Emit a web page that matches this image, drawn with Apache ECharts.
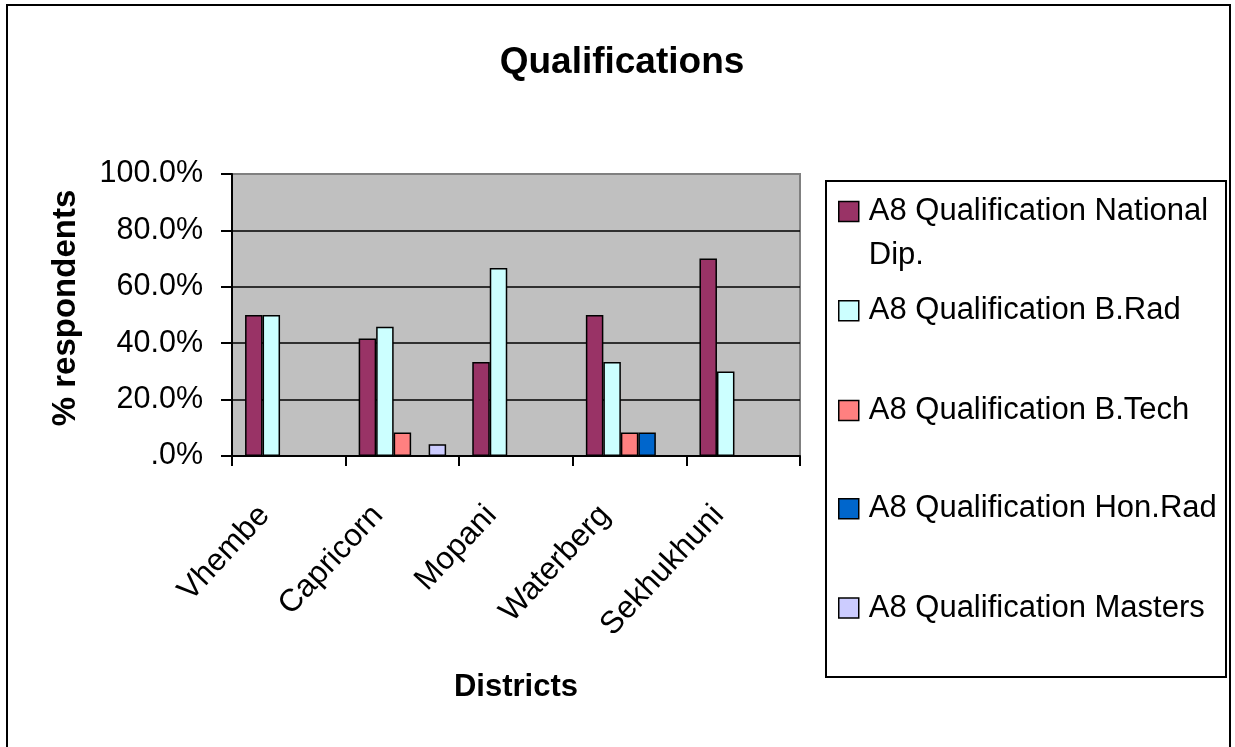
<!DOCTYPE html>
<html>
<head>
<meta charset="utf-8">
<title>Qualifications</title>
<script src="https://cdn.jsdelivr.net/npm/echarts@6/dist/echarts.min.js"></script>
<style>
  html, body { margin: 0; padding: 0; background: #ffffff; }
  #chart { width: 1235px; height: 747px; }
</style>
</head>
<body>
<div id="chart"></div>
<script>
// Districts on the x axis
var districts = ['Vhembe', 'Capricorn', 'Mopani', 'Waterberg', 'Sekhukhuni'];

// Share of respondents (%) per qualification; null = no respondents
var nationalDip = [50.0, 41.7, 33.3, 50.0, 70.0];
var bRad        = [50.0, 45.8, 66.7, 33.3, 30.0];
var bTech       = [null, 8.3, null, 8.3, null];
var honRad      = [null, null, null, 8.3, null];
var masters     = [null, 4.2, null, null, null];

// Value axis ticks (%)
var yTicks = [0, 20, 40, 60, 80, 100];

var seriesNames = [
  'A8 Qualification National Dip.',
  'A8 Qualification B.Rad',
  'A8 Qualification B.Tech',
  'A8 Qualification Hon.Rad',
  'A8 Qualification Masters'
];
var seriesData = [nationalDip, bRad, bTech, honRad, masters];
var seriesColors = ['#993366', '#CCFFFF', '#FF8080', '#0066CC', '#CCCCFF'];

var FONT = 'Liberation Sans, Arial, sans-serif';

var chart = echarts.init(document.getElementById('chart'), null, { renderer: 'canvas' });

var series = seriesNames.map(function (name, i) {
  return {
    name: name,
    type: 'bar',
    data: seriesData[i],
    barGap: '0%',
    barCategoryGap: '23%',
    itemStyle: { color: seriesColors[i], borderColor: '#000000', borderWidth: 1.5 },
    emphasis: { disabled: true },
    animation: false
  };
});

// One legend block per series so each row can sit at its own height;
// the first label wraps onto a second line.
var legendRowCenters = [211.5, 310.7, 410.5, 508.7, 608];
var LINE_H = 44;
var legends = seriesNames.map(function (name, i) {
  var first = i === 0;
  return {
    data: [name],
    orient: 'vertical',
    left: 838,
    top: first ? legendRowCenters[i] - LINE_H * 1.5 : legendRowCenters[i] - LINE_H / 2,
    padding: 0,
    itemWidth: 20,
    itemHeight: 20,
    icon: 'rect',
    selectedMode: false,
    itemStyle: { borderColor: '#000000', borderWidth: 1.5 },
    formatter: first ? function () { return '\nA8 Qualification National\nDip.'; } : '{name}',
    textStyle: {
      fontFamily: FONT,
      fontSize: 31,
      color: '#000000',
      lineHeight: LINE_H,
      padding: [0, 0, 0, 5]
    }
  };
});

chart.setOption({
  backgroundColor: '#ffffff',
  animation: false,
  title: {
    text: 'Qualifications',
    left: 622,
    top: 44,
    textAlign: 'center',
    padding: 0,
    textStyle: { fontFamily: FONT, fontSize: 37, fontWeight: 'bold', color: '#000000' }
  },
  legend: legends,
  grid: {
    left: 232,
    right: 435,
    top: 174,
    bottom: 291,
    show: true,
    backgroundColor: '#C0C0C0',
    borderColor: '#808080',
    borderWidth: 2
  },
  xAxis: {
    type: 'category',
    data: districts,
    name: 'Districts',
    nameLocation: 'middle',
    nameGap: 231,
    nameTextStyle: { fontFamily: FONT, fontSize: 31, fontWeight: 'bold', color: '#000000', verticalAlign: 'middle' },
    axisLine: { lineStyle: { color: '#000000', width: 2 } },
    axisTick: { show: true, alignWithLabel: false, length: 10, lineStyle: { color: '#000000', width: 2 } },
    axisLabel: {
      interval: 0,
      rotate: 47,
      margin: 28,
      fontFamily: FONT,
      fontSize: 31.5,
      color: '#000000',
      padding: [0, 36, 0, 0]
    },
    splitLine: { show: false }
  },
  yAxis: {
    type: 'value',
    min: yTicks[0],
    max: yTicks[yTicks.length - 1],
    interval: yTicks[1] - yTicks[0],
    name: '% respondents',
    nameLocation: 'middle',
    nameGap: 166,
    nameRotate: 90,
    nameTextStyle: {
      fontFamily: FONT, fontSize: 33, fontWeight: 'bold', color: '#000000',
      verticalAlign: 'middle', padding: [0, 0, 0, 14]
    },
    axisLine: { show: true, lineStyle: { color: '#000000', width: 2 } },
    axisTick: { show: true, length: 11, lineStyle: { color: '#000000', width: 2 } },
    axisLabel: {
      margin: 29,
      fontFamily: FONT,
      fontSize: 30.5,
      color: '#000000',
      formatter: function (v) { return v === 0 ? '.0%' : v.toFixed(1) + '%'; }
    },
    splitLine: { show: true, showMaxLine: false, showMinLine: false, lineStyle: { color: '#000000', width: 1.5 } }
  },
  graphic: [
    {
      type: 'rect',
      shape: { x: 7, y: 5, width: 1223, height: 760 },
      style: { fill: 'none', stroke: '#000000', lineWidth: 2 },
      silent: true,
      z: -1
    },
    {
      type: 'rect',
      shape: { x: 826, y: 181, width: 400, height: 496 },
      style: { fill: 'none', stroke: '#000000', lineWidth: 2 },
      silent: true
    }
  ],
  series: series
});
</script>
</body>
</html>
